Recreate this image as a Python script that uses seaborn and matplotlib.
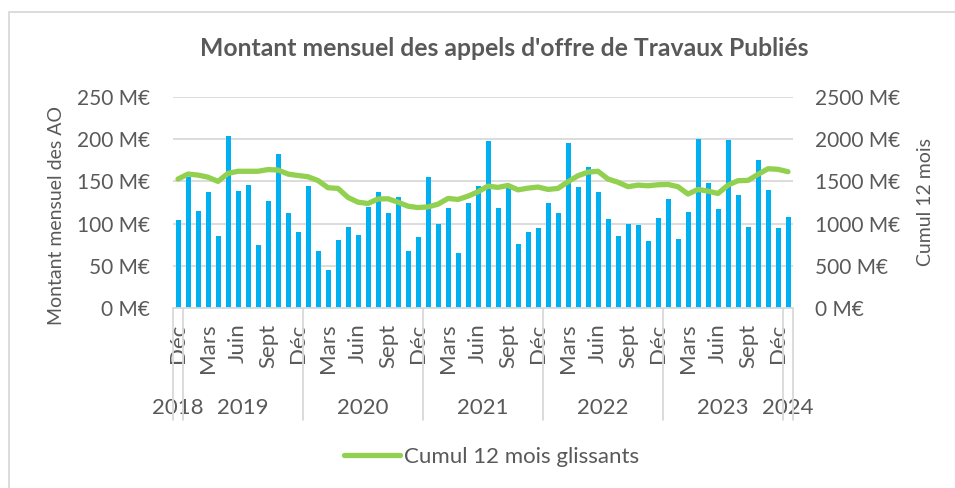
import numpy as np
import pandas as pd
import matplotlib
matplotlib.use("Agg")
import matplotlib.pyplot as plt
import seaborn as sns
from matplotlib.transforms import blended_transform_factory
from matplotlib.lines import Line2D
from matplotlib.patches import Rectangle

# ---------------- data ----------------
years = ["2018"] + ["2019"] * 12 + ["2020"] * 12 + ["2021"] * 12 + ["2022"] * 12 + ["2023"] * 12 + ["2024"]
month_names = ["Janv", "Févr", "Mars", "Avr", "Mai", "Juin", "Juil", "Août", "Sept", "Oct", "Nov", "Déc"]
months = ["Déc"] + month_names * 5 + ["Janv"]
shown_months = ["Déc", "Mars", "Juin", "Sept"]

monthly = [104, 155, 115, 137, 85, 204, 139, 146, 75, 127, 182, 113, 90,
           144, 68, 45, 81, 96, 86, 120, 138, 112, 132, 67, 84,
           155, 100, 118, 65, 125, 144, 198, 118, 142, 76, 90, 95,
           125, 112, 196, 143, 167, 138, 105, 85, 99, 98, 79, 107,
           129, 82, 114, 200, 148, 117, 199, 134, 96, 175, 140, 95,
           108]
cumul = [1528, 1587, 1575, 1550, 1500, 1595, 1620, 1620, 1620, 1640, 1635, 1587, 1570,
         1555, 1510, 1425, 1417, 1310, 1254, 1238, 1292, 1294, 1254, 1206, 1190,
         1198, 1230, 1298, 1286, 1325, 1377, 1444, 1429, 1452, 1400, 1420, 1433,
         1405, 1417, 1496, 1567, 1610, 1620, 1528, 1490, 1437, 1456, 1448, 1460,
         1464, 1437, 1350, 1405, 1385, 1357, 1456, 1508, 1512, 1583, 1650, 1643,
         1615]

left_ticks = [0, 50, 100, 150, 200, 250]
right_ticks = [0, 500, 1000, 1500, 2000, 2500]

df = pd.DataFrame({"idx": np.arange(len(monthly)), "monthly": monthly,
                   "cumul": cumul, "month": months, "year": years})

# ---------------- style ----------------
sns.set_theme(style="white")
plt.rcParams["font.family"] = ["Lato", "DejaVu Sans"]
GRAY = "#595959"
BLUE = "#00B0F0"
GREEN = "#92D050"
GRID = "#D9D9D9"

W, H = 955, 488
fig = plt.figure(figsize=(W / 100, H / 100), dpi=100)
ax = fig.add_axes([173 / W, 180 / H, 620 / W, 211 / H])

sns.barplot(data=df, x="idx", y="monthly", color=BLUE, width=0.5,
            saturation=1, ax=ax, edgecolor="none")
ax.set_xlim(-0.5, len(monthly) - 0.5)
ax.set_ylim(0, 250)
ax.set_yticks(left_ticks)
ax.set_yticklabels([f"{v} M€" for v in left_ticks])
ax.yaxis.grid(True, color=GRID, lw=1.3)
ax.set_axisbelow(True)
for s in ["top", "right", "left"]:
    ax.spines[s].set_visible(False)
ax.spines["bottom"].set_color(GRID)
ax.spines["bottom"].set_linewidth(1.3)
ax.tick_params(axis="y", length=0, pad=16.5, labelsize=15, labelcolor=GRAY)

# month tick labels
pos = [i for i, m in enumerate(months) if m in shown_months]
ax.set_xticks(pos)
ax.set_xticklabels([months[i] for i in pos], rotation=90)
ax.tick_params(axis="x", length=0, pad=11, labelsize=16, labelcolor=GRAY)
ax.set_xlabel("")
ax.set_ylabel("")
fig.text(57 / W, 1 - 215 / H, "Montant mensuel des AO", rotation=90, ha="center",
         va="center", fontsize=14, color=GRAY)

ax2 = ax.twinx()
sns.lineplot(data=df, x="idx", y="cumul", color=GREEN, lw=3.8, ax=ax2,
             solid_capstyle="round", solid_joinstyle="round",
             label="Cumul 12 mois glissants", legend=False)
ax2.set_ylim(0, 2500)
ax2.set_yticks(right_ticks)
ax2.set_yticklabels([f"{v} M€" for v in right_ticks])
ax2.tick_params(axis="y", length=0, pad=16, labelsize=15, labelcolor=GRAY)
for s in ax2.spines.values():
    s.set_visible(False)
ax2.set_xlim(-0.5, len(monthly) - 0.5)
ax2.set_ylabel("")
ax2.set_xlabel("")
fig.text(925 / W, 1 - 202 / H, "Cumul 12 mois", rotation=90, ha="center",
         va="center", fontsize=14, color=GRAY)

# year groups
tr = blended_transform_factory(ax.transData, fig.transFigure)
bounds = [-0.5]
for i in range(1, len(years)):
    if years[i] != years[i - 1]:
        bounds.append(i - 0.5)
bounds.append(len(years) - 0.5)
for b in bounds:
    fig.add_artist(Line2D([b, b], [180 / H, (H - 420) / H], transform=tr,
                          color=GRID, lw=1.3))
for a, b in zip(bounds[:-1], bounds[1:]):
    yr = years[int(a + 0.5)]
    ax.text((a + b) / 2, (H - 408) / H, yr, transform=tr, ha="center",
            va="center", fontsize=16, color=GRAY)

# title
fig.text(504 / W, 1 - 48 / H, "Montant mensuel des appels d'offre de Travaux Publiés",
         ha="center", va="center", fontsize=17.8, fontweight="bold", color=GRAY)

# legend
h = [Line2D([], [], color=GREEN, lw=3.8, solid_capstyle="round")]
fig.legend(h, ["Cumul 12 mois glissants"], loc="center",
           bbox_to_anchor=(492 / W, 1 - 457 / H), frameon=False,
           fontsize=16, labelcolor=GRAY, handlelength=2.5, handletextpad=0.2)

# outer frame
fig.add_artist(Rectangle((9 / W, -0.05), 1.2, 1 - 12 / H + 0.05,
                         transform=fig.transFigure, fill=False,
                         edgecolor=GRID, lw=1.3))

fig.savefig("out.png", dpi=100)
